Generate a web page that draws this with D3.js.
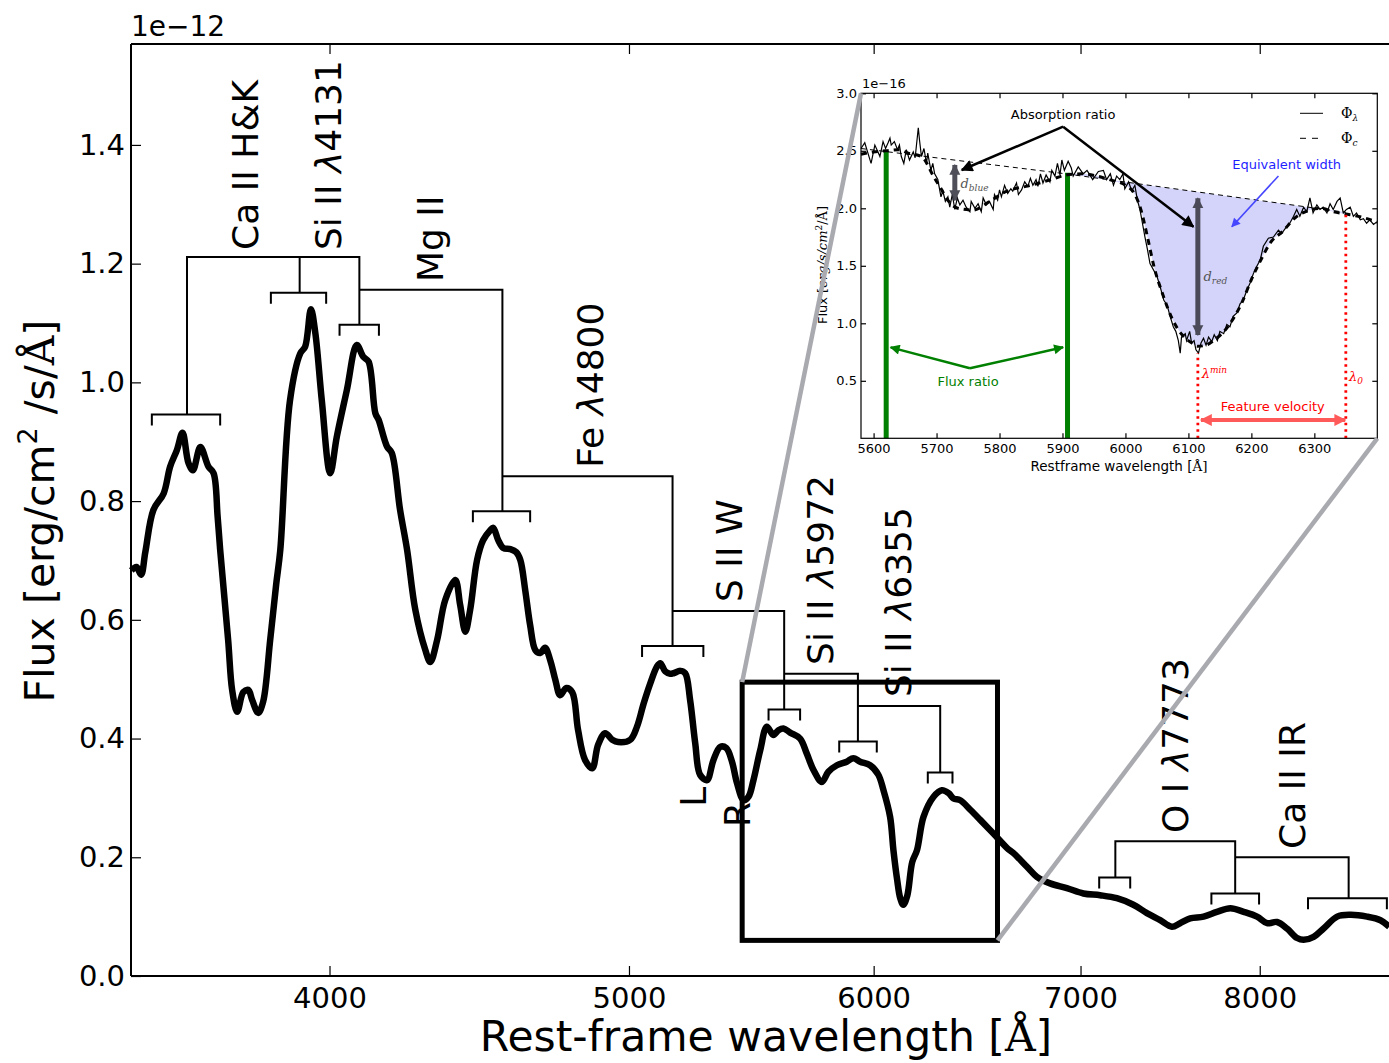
<!DOCTYPE html>
<html><head><meta charset="utf-8">
<script src="https://cdn.jsdelivr.net/npm/d3@7"></script>
<style>
body{margin:0;background:#fff}
svg{display:block;font-family:"DejaVu Sans",sans-serif}
</style></head><body>
<svg id="c" width="1389" height="1063"></svg>
<script>
// ---------------- main spectrum (flux in units of 1e-12) ----------------
const wavelength = [3451,3464,3476,3487,3508,3535,3552,3570,3585,3601,3613,3633,3655,3669,3680,3687,3709,3720,3734,3751,3765,3776,3793,3807,3827,3844,3856,3884,3914,3928,3945,3958,3977,4002,4022,4052,4082,4102,4118,4139,4149,4175,4190,4216,4238,4264,4296,4312,4334,4360,4393,4409,4426,4442,4465,4485,4509,4519,4536,4553,4577,4597,4611,4628,4645,4663,4680,4697,4715,4733,4750,4772,4793,4814,4839,4865,4886,4912,4938,4960,5005,5030,5055,5080,5105,5118,5137,5156,5169,5195,5214,5233,5253,5272,5299,5325,5352,5376,5399,5419,5446,5466,5486,5514,5541,5568,5589,5610,5638,5680,5708,5737,5773,5801,5838,5881,5910,5940,5984,6021,6044,6074,6089,6106,6120,6134,6152,6175,6197,6227,6274,6313,6345,6368,6400,6448,6496,6560,6626,6659,6726,6776,6843,6929,7015,7103,7192,7281,7355,7428,7493,7539,7596,7672,7749,7827,7905,7984,8044,8104,8164,8226,8266,8328,8390,8475,8559,8666,8753,8811];
const flux = [0.683,0.689,0.676,0.714,0.785,0.813,0.858,0.886,0.915,0.864,0.852,0.891,0.858,0.847,0.774,0.718,0.566,0.482,0.445,0.478,0.482,0.465,0.443,0.462,0.566,0.659,0.718,0.970,1.049,1.060,1.123,1.083,0.970,0.847,0.909,0.987,1.063,1.043,1.035,0.948,0.937,0.892,0.881,0.785,0.718,0.617,0.549,0.529,0.566,0.633,0.667,0.625,0.580,0.617,0.701,0.734,0.751,0.755,0.734,0.721,0.719,0.714,0.701,0.650,0.591,0.549,0.544,0.553,0.532,0.499,0.473,0.485,0.478,0.414,0.364,0.350,0.389,0.409,0.398,0.394,0.398,0.420,0.459,0.493,0.521,0.527,0.513,0.509,0.510,0.514,0.510,0.465,0.392,0.339,0.330,0.364,0.386,0.384,0.361,0.325,0.296,0.302,0.330,0.381,0.420,0.406,0.414,0.417,0.410,0.400,0.375,0.347,0.327,0.344,0.355,0.361,0.367,0.361,0.355,0.339,0.313,0.268,0.212,0.162,0.131,0.120,0.135,0.192,0.212,0.268,0.302,0.313,0.308,0.299,0.296,0.280,0.263,0.240,0.216,0.207,0.184,0.167,0.156,0.148,0.139,0.136,0.131,0.120,0.106,0.094,0.083,0.089,0.097,0.100,0.108,0.114,0.108,0.100,0.089,0.091,0.080,0.064,0.061,0.066,0.080,0.100,0.103,0.100,0.094,0.083];
const xTicks = [4000,5000,6000,7000,8000];
const yTicks = [0.0,0.2,0.4,0.6,0.8,1.0,1.2,1.4];

// line-identification brackets: [lambda_lo, lambda_hi, flux level]
const brackets = [[3504,3687,0.946],[3829,3990,1.151],[4030,4150,1.097],[4451,4645,0.783],[5049,5285,0.556],[5548,5680,0.449],[5848,6014,0.395],[6247,6363,0.343],[7098,7264,0.166],[7717,7996,0.139],[8293,8795,0.131]];
// connectors between brackets: polylines of [lambda, flux]
const links = [
 [[3597,0.946],[3597,1.211],[4090,1.211],[4090,1.097]],
 [[3912,1.151],[3912,1.211]],
 [[4090,1.156],[4550,1.156],[4550,0.783]],
 [[4550,0.842],[5165,0.842],[5165,0.556]],
 [[5165,0.615],[5613,0.615],[5613,0.449]],
 [[5613,0.509],[5930,0.509],[5930,0.395]],
 [[5930,0.455],[6305,0.455],[6305,0.343]],
 [[7184,0.166],[7184,0.227],[7855,0.227],[7855,0.139]],
 [[7855,0.200],[8548,0.200],[8548,0.131]]];
const lineNames = ["Ca II H&K","Si II |4131","Mg II","Fe |4800","S II W","Si II |5972","Si II |6355","O I |7773","Ca II IR","L","R"];
const lineNameWave = [3756,3996,4312,4858,5389,5765,6113,7512,8200,5245,5422];
const lineNameFlux = [1.223,1.223,1.169,0.856,0.630,0.524,0.470,0.241,0.214,0.285,0.251];
const zoomWave = [5440,6580];
const zoomFlux = [0.06,0.495];

// ---------------- inset (flux in units of 1e-16) ----------------
const insetWave = [5580,5586,5591,5596,5602,5607,5610,5615,5619,5623,5626,5628,5633,5638,5641,5644,5648,5652,5657,5663,5666,5671,5673,5676,5680,5684,5686,5691,5694,5697,5702,5707,5710,5714,5718,5721,5725,5729,5733,5737,5742,5747,5753,5755,5761,5766,5771,5774,5779,5784,5790,5792,5797,5800,5803,5808,5813,5818,5821,5827,5830,5835,5840,5845,5849,5853,5858,5861,5865,5869,5874,5880,5883,5888,5892,5896,5899,5903,5909,5914,5917,5925,5933,5939,5948,5957,5965,5970,5976,5981,5986,5991,5996,5999,6005,6010,6015,6019,6023,6027,6031,6035,6039,6050,6055,6058,6061,6066,6071,6076,6080,6084,6087,6089,6095,6097,6102,6105,6109,6112,6116,6120,6124,6128,6132,6137,6141,6146,6150,6156,6161,6166,6171,6177,6182,6187,6193,6198,6203,6208,6214,6219,6227,6235,6243,6248,6256,6261,6267,6272,6277,6283,6288,6293,6298,6304,6309,6314,6320,6325,6330,6336,6341,6346,6351,6357,6362,6367,6373,6378,6383,6388,6394,6399];
const insetFlux = [2.52,2.57,2.48,2.39,2.55,2.49,2.45,2.58,2.52,2.57,2.61,2.55,2.58,2.51,2.55,2.45,2.39,2.51,2.42,2.49,2.44,2.70,2.59,2.45,2.52,2.39,2.48,2.33,2.39,2.30,2.25,2.10,2.15,2.06,2.10,2.01,2.12,1.99,2.09,2.03,2.07,2.01,1.97,2.06,2.00,2.04,1.97,2.09,2.03,2.06,1.99,2.12,2.07,2.16,2.10,2.20,2.13,2.17,2.15,2.22,2.12,2.16,2.23,2.19,2.26,2.20,2.25,2.19,2.30,2.22,2.29,2.23,2.33,2.28,2.39,2.29,2.42,2.33,2.41,2.35,2.28,2.36,2.30,2.33,2.25,2.32,2.33,2.25,2.30,2.20,2.28,2.25,2.30,2.17,2.23,2.15,2.20,2.07,1.99,1.87,1.75,1.64,1.52,1.41,1.32,1.26,1.20,1.16,1.06,0.97,0.93,0.85,0.74,0.88,0.91,0.85,0.93,0.83,0.85,0.77,0.74,0.83,0.87,0.81,0.88,0.84,0.90,0.85,0.93,0.91,0.99,0.97,1.06,1.09,1.17,1.20,1.29,1.35,1.43,1.49,1.55,1.67,1.74,1.75,1.81,1.78,1.84,1.87,1.93,1.99,1.93,2.01,1.97,2.09,1.96,2.03,1.99,2.01,1.96,2.04,1.99,2.06,2.09,1.96,1.99,2.01,1.93,1.96,1.90,1.91,1.87,1.90,1.86,1.88];
const smoothWave = [5580,5600,5620,5640,5655,5676,5697,5705,5718,5734,5758,5787,5808,5850,5882,5906,5930,5955,5980,6000,6015,6025,6035,6045,6060,6075,6090,6105,6115,6128,6140,6155,6170,6185,6200,6215,6230,6250,6270,6290,6310,6330,6350,6370,6400];
const smoothFlux = [2.47,2.49,2.50,2.51,2.48,2.45,2.26,2.19,2.07,2.00,1.985,2.07,2.14,2.20,2.25,2.29,2.30,2.28,2.24,2.20,2.12,1.98,1.75,1.50,1.24,1.03,0.90,0.83,0.80,0.81,0.85,0.92,1.03,1.18,1.38,1.55,1.70,1.80,1.92,1.98,2.00,1.97,1.95,1.93,1.88];
const contWave = [5580,5905,6350];
const contFlux = [2.52,2.30,1.965];
const insetXTicks = [5600,5700,5800,5900,6000,6100,6200,6300];
const insetYTicks = [0.5,1.0,1.5,2.0,2.5,3.0];
const fluxRatioWave = [5620,5908];
const fluxRatioTop = [2.50,2.31];
const lambdaMinWave = 6115, lambdaMinTop = 0.739;
const lambda0Wave = 6350, lambda0Top = 1.96;

// ---------------- drawing ----------------
const svg = d3.select("#c");
const x = d3.scaleLog().domain([3450, 9000]).range([131, 1417.8]);
const y = d3.scaleLinear().domain([0, 1.57]).range([976, 44]);
const defs = svg.append("defs");
function marker(id, color, len, wid) {
  defs.append("marker").attr("id", id).attr("viewBox", "0 0 10 10")
    .attr("refX", 9).attr("refY", 5).attr("markerWidth", len).attr("markerHeight", wid)
    .attr("markerUnits", "userSpaceOnUse").attr("orient", "auto-start-reverse")
    .append("path").attr("d", "M0,0L10,5L0,10Z").attr("fill", color);
}
marker("mBlack", "#000", 14, 12);
marker("mGreen", "#008000", 12, 10);
marker("mBlue", "#4646ff", 11, 9);
marker("mRed", "#ff5a5a", 13, 12);
marker("mGrey", "#3c3c48", 11, 12);

// axes
const g = svg.append("g");
const fs = 29;
function styleAxis(sel, size) {
  sel.select(".domain").remove();
  sel.selectAll(".tick line").attr("stroke", "#000").attr("stroke-width", 1.2);
  sel.selectAll("text").attr("fill", "#000").attr("font-size", size).attr("font-family", "DejaVu Sans");
  sel.attr("font-family", null).attr("font-size", null);
}
g.append("g").attr("transform", "translate(0,976)")
  .call(d3.axisBottom(x).tickValues(xTicks).tickFormat(d3.format("d")).tickSize(-10).tickPadding(11))
  .call(s => styleAxis(s, fs));
g.append("g").attr("transform", "translate(0,44)")
  .call(d3.axisTop(x).tickValues(xTicks).tickFormat("").tickSize(-10))
  .call(s => styleAxis(s, fs));
g.append("g").attr("transform", "translate(131,0)")
  .call(d3.axisLeft(y).tickValues(yTicks).tickFormat(d3.format(".1f")).tickSize(-10).tickPadding(6))
  .call(s => styleAxis(s, fs));
// spines
g.append("path").attr("d", `M131,976H1417.8M131,44H1417.8M131,44V976`)
  .attr("stroke", "#000").attr("stroke-width", 2).attr("fill", "none");
svg.append("text").attr("x", 131).attr("y", 36).attr("font-size", 28).text("1e\u221212");
// axis labels
const xl = svg.append("text").attr("x", 766).attr("y", 1051).attr("text-anchor", "middle").attr("font-size", 42.5);
xl.append("tspan").text("Rest-frame wavelength [");
xl.append("tspan").attr("font-family", "DejaVu Serif").text("\u00c5");
xl.append("tspan").text("]");
const yl = svg.append("text").attr("transform", "translate(40,511) rotate(-90)").attr("text-anchor", "middle").attr("dy", "0.35em").attr("font-size", 41);
yl.append("tspan").text("Flux [erg/cm");
yl.append("tspan").attr("font-size", 27).attr("dy", -17).text("2");
yl.append("tspan").attr("dy", 17).text(" /s/");
yl.append("tspan").attr("font-family", "DejaVu Serif").text("\u00c5");
yl.append("tspan").text("]");

// spectrum
const pts = wavelength.map((w, i) => [w, flux[i]]);
svg.append("path").datum(pts)
  .attr("d", d3.line().x(d => x(d[0])).y(d => y(d[1])).curve(d3.curveCatmullRom.alpha(0.5)))
  .attr("fill", "none").attr("stroke", "#000").attr("stroke-width", 6.5).attr("stroke-linejoin", "round");

// brackets and links
const tick = 11;
const ann = svg.append("g").attr("stroke", "#000").attr("stroke-width", 2).attr("fill", "none");
brackets.forEach(b => {
  const x0 = x(b[0]), x1 = x(b[1]), yy = y(b[2]);
  ann.append("path").attr("d", `M${x0},${yy + tick}V${yy}H${x1}V${yy + tick}`);
});
links.forEach(l => {
  ann.append("path").attr("d", d3.line().x(d => x(d[0])).y(d => y(d[1]))(l));
});
lineNames.forEach((t, i) => {
  const tx = svg.append("text")
    .attr("transform", `translate(${x(lineNameWave[i])},${y(lineNameFlux[i])}) rotate(-90)`)
    .attr("dy", "0.35em").attr("font-size", 36);
  const parts = t.split("|");
  tx.append("tspan").text(parts[0]);
  if (parts.length > 1) {
    tx.append("tspan").attr("font-style", "italic").text("\u03bb");
    tx.append("tspan").text(parts[1]);
  }
});

// zoom box
svg.append("rect").attr("x", x(zoomWave[0])).attr("y", y(zoomFlux[1]))
  .attr("width", x(zoomWave[1]) - x(zoomWave[0])).attr("height", y(zoomFlux[0]) - y(zoomFlux[1]))
  .attr("fill", "none").attr("stroke", "#000").attr("stroke-width", 5);

// ---------------- inset ----------------
const xi = d3.scaleLinear().domain([5580, 6400]).range([861, 1377.3]);
const yi = d3.scaleLinear().domain([0, 3]).range([438.3, 93.3]);
const ins = svg.append("g");
ins.append("rect").attr("x", 861).attr("y", 93.3).attr("width", 516.3).attr("height", 345).attr("fill", "#fff");

// inset y label (drawn before connector lines)
const iyl = svg.append("text").attr("transform", "translate(822,265) rotate(-90)").attr("text-anchor", "middle")
  .attr("dy", "0.35em").attr("font-size", 13);
iyl.append("tspan").text("Flux [");
iyl.append("tspan").attr("font-family", "DejaVu Serif").attr("font-style", "italic").text("erg/s/cm");
iyl.append("tspan").attr("font-family", "DejaVu Serif").attr("font-size", 9).attr("dy", -5).text("2");
iyl.append("tspan").attr("font-family", "DejaVu Serif").attr("dy", 5).text("/\u00c5");
iyl.append("tspan").text("]");

// equivalent width fill
const cont = d3.scaleLinear().domain(contWave).range(contFlux);
const fillPts = smoothWave.map((w, i) => [w, smoothFlux[i]]).filter(d => d[0] >= 5906 && d[0] <= 6350);
ins.append("path").datum(fillPts)
  .attr("d", d3.area().x(d => xi(d[0])).y0(d => yi(cont(d[0]))).y1(d => yi(d[1])).curve(d3.curveMonotoneX))
  .attr("fill", "#d4d4fa");

// green flux ratio lines
fluxRatioWave.forEach((w, i) => {
  ins.append("line").attr("x1", xi(w)).attr("x2", xi(w)).attr("y1", yi(0)).attr("y2", yi(fluxRatioTop[i]))
    .attr("stroke", "#008000").attr("stroke-width", 5);
});
// pseudo continuum
ins.append("path").datum(contWave.map((w, i) => [w, contFlux[i]]))
  .attr("d", d3.line().x(d => xi(d[0])).y(d => yi(d[1])))
  .attr("fill", "none").attr("stroke", "#000").attr("stroke-width", 1).attr("stroke-dasharray", "5,4");
// noisy spectrum
ins.append("path").datum(insetWave.map((w, i) => [w, insetFlux[i]]))
  .attr("d", d3.line().x(d => xi(d[0])).y(d => yi(d[1])))
  .attr("fill", "none").attr("stroke", "#000").attr("stroke-width", 1.2);
// smoothed spectrum
ins.append("path").datum(smoothWave.map((w, i) => [w, smoothFlux[i]]))
  .attr("d", d3.line().x(d => xi(d[0])).y(d => yi(d[1])).curve(d3.curveMonotoneX))
  .attr("fill", "none").attr("stroke", "#000").attr("stroke-width", 3).attr("stroke-dasharray", "6,5");

// red dotted lines
[[lambdaMinWave, lambdaMinTop], [lambda0Wave, lambda0Top]].forEach(d => {
  ins.append("line").attr("x1", xi(d[0])).attr("x2", xi(d[0])).attr("y1", yi(0)).attr("y2", yi(d[1]))
    .attr("stroke", "#ff0000").attr("stroke-width", 2.8).attr("stroke-dasharray", "2.5,4");
});

// d_blue / d_red
[[5729, 2.377, 2.07], [6115, 2.087, 0.898]].forEach(d => {
  ins.append("line").attr("x1", xi(d[0])).attr("x2", xi(d[0])).attr("y1", yi(d[1])).attr("y2", yi(d[2]))
    .attr("stroke", "#3c3c48").attr("stroke-width", 5).attr("opacity", 0.9)
    .attr("marker-start", "url(#mGrey)").attr("marker-end", "url(#mGrey)");
});
function subLabel(w, f, main, sub, color, sup) {
  const t = ins.append("text").attr("x", xi(w)).attr("y", yi(f)).attr("dy", "0.35em")
    .attr("font-family", "DejaVu Serif").attr("font-style", "italic").attr("font-size", 13).attr("fill", color);
  t.append("tspan").text(main);
  t.append("tspan").attr("font-size", 9).attr("dy", sup ? -5 : 3).text(sub);
}
subLabel(5738, 2.22, "d", "blue", "#555");
subLabel(6124, 1.405, "d", "red", "#555");
subLabel(6121, 0.565, "\u03bb", "min", "#ff0000", true);
subLabel(6355, 0.536, "\u03bb", "0", "#ff0000", false);

// absorption ratio arrows
const absApex = [5901, 2.71];
const absTips = [[5740, 2.333], [6108, 1.84]];
absTips.forEach(t => {
  ins.append("line").attr("x1", xi(absApex[0])).attr("y1", yi(absApex[1])).attr("x2", xi(t[0])).attr("y2", yi(t[1]))
    .attr("stroke", "#000").attr("stroke-width", 2.5).attr("marker-end", "url(#mBlack)");
});
ins.append("text").attr("x", xi(5901)).attr("y", yi(2.82)).attr("dy", "0.35em").attr("text-anchor", "middle")
  .attr("font-size", 13).text("Absorption ratio");

// equivalent width
ins.append("text").attr("x", xi(6256)).attr("y", yi(2.377)).attr("dy", "0.35em").attr("text-anchor", "middle")
  .attr("font-size", 13).attr("fill", "#1e1eff").text("Equivalent width");
ins.append("line").attr("x1", xi(6243)).attr("y1", yi(2.281)).attr("x2", xi(6169)).attr("y2", yi(1.84))
  .attr("stroke", "#4646ff").attr("stroke-width", 1.6).attr("marker-end", "url(#mBlue)");

// flux ratio
const frOrigin = [5753, 0.609];
[[5627, 0.791], [5901, 0.791]].forEach(t => {
  ins.append("line").attr("x1", xi(frOrigin[0])).attr("y1", yi(frOrigin[1])).attr("x2", xi(t[0])).attr("y2", yi(t[1]))
    .attr("stroke", "#008000").attr("stroke-width", 2.5).attr("marker-end", "url(#mGreen)");
});
ins.append("text").attr("x", xi(5750)).attr("y", yi(0.498)).attr("dy", "0.35em").attr("text-anchor", "middle")
  .attr("font-size", 13).attr("fill", "#008000").text("Flux ratio");

// feature velocity
ins.append("line").attr("x1", xi(6120)).attr("x2", xi(6349)).attr("y1", yi(0.159)).attr("y2", yi(0.159))
  .attr("stroke", "#ff5a5a").attr("stroke-width", 4)
  .attr("marker-start", "url(#mRed)").attr("marker-end", "url(#mRed)");
ins.append("text").attr("x", xi(6234)).attr("y", yi(0.275)).attr("dy", "0.35em").attr("text-anchor", "middle")
  .attr("font-size", 13).attr("fill", "#ff0000").text("Feature velocity");

// legend
ins.append("line").attr("x1", 1300).attr("x2", 1323).attr("y1", 113.3).attr("y2", 113.3).attr("stroke", "#000").attr("stroke-width", 1);
ins.append("line").attr("x1", 1300).attr("x2", 1323).attr("y1", 138.3).attr("y2", 138.3).attr("stroke", "#000").attr("stroke-width", 1).attr("stroke-dasharray", "6,6");
[["\u03bb", 113.3], ["c", 138.3]].forEach(d => {
  const t = ins.append("text").attr("x", 1341).attr("y", d[1]).attr("dy", "0.35em")
    .attr("font-family", "DejaVu Serif").attr("font-size", 14);
  t.append("tspan").text("\u03a6");
  t.append("tspan").attr("font-size", 9).attr("font-style", "italic").attr("dy", 3).text(d[0]);
});

// inset axes
ins.append("g").attr("transform", "translate(0,438.3)")
  .call(d3.axisBottom(xi).tickValues(insetXTicks).tickFormat(d3.format("d")).tickSize(-5).tickPadding(5))
  .call(s => styleAxis(s, 13));
ins.append("g").attr("transform", "translate(0,93.3)")
  .call(d3.axisTop(xi).tickValues(insetXTicks).tickFormat("").tickSize(-5)).call(s => styleAxis(s, 13));
ins.append("g").attr("transform", "translate(861,0)")
  .call(d3.axisLeft(yi).tickValues(insetYTicks).tickFormat(d3.format(".1f")).tickSize(-5).tickPadding(4))
  .call(s => styleAxis(s, 13));
ins.append("g").attr("transform", "translate(1377.3,0)")
  .call(d3.axisRight(yi).tickValues(insetYTicks).tickFormat("").tickSize(-5)).call(s => styleAxis(s, 13));
ins.append("rect").attr("x", 861).attr("y", 93.3).attr("width", 516.3).attr("height", 345)
  .attr("fill", "none").attr("stroke", "#000").attr("stroke-width", 1.2);
ins.append("text").attr("x", 862).attr("y", 88).attr("font-size", 13).text("1e\u221216");
ins.append("text").attr("x", 1119).attr("y", 471).attr("text-anchor", "middle").attr("font-size", 13.5)
  .text("Restframe wavelength [").append("tspan").attr("font-family", "DejaVu Serif").text("\u00c5]");

// grey connector lines from zoom box to inset
const grey = svg.append("g").attr("stroke", "#a9a9b0").attr("stroke-width", 4.5);
grey.append("line").attr("x1", x(zoomWave[0])).attr("y1", y(zoomFlux[1])).attr("x2", xi(5580)).attr("y2", yi(3));
grey.append("line").attr("x1", x(zoomWave[1])).attr("y1", y(zoomFlux[0])).attr("x2", xi(6400)).attr("y2", yi(0));
</script>
</body></html>
